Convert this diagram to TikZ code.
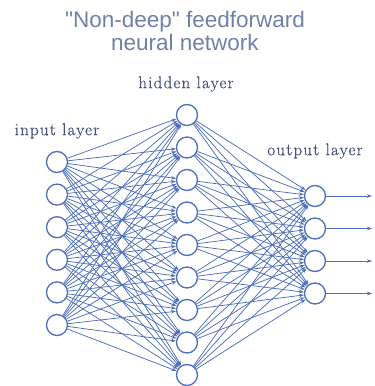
\documentclass[tikz,border=0pt]{standalone}
\usepackage{fontspec}
\newfontfamily\titlefont{Liberation Sans}
\newfontfamily\labelfont[LetterSpace=7,FakeBold=0.6]{Latin Modern Roman}
\usetikzlibrary{arrows.meta}
\definecolor{netblue}{RGB}{78,110,185}
\definecolor{titlecol}{RGB}{112,128,168}
\definecolor{labelcol}{RGB}{70,80,120}
\tikzset{
  neuron/.style={circle, draw=netblue, fill=white, line width=1.3pt, minimum size=21pt, inner sep=0pt},
  conn/.style={draw=netblue, line width=0.75pt, -{Stealth[length=5pt,width=3.5pt]}},
  outarrow/.style={draw=netblue, line width=0.9pt, -{Stealth[length=5pt,width=3.5pt]}},
  layerlabel/.style={text=labelcol, font=\labelfont\fontsize{17}{20}\selectfont, inner sep=0pt},
  titletext/.style={text=titlecol, font=\titlefont\fontsize{22.5}{23.5}\selectfont, align=center, inner sep=0pt}
}
\begin{document}
\begin{tikzpicture}[x=1pt, y=-1pt]
\useasboundingbox (0,0) rectangle (375,386);
\node[titletext] (title) at (185,31) {"Non-deep" feedforward\\neural network};
\node[layerlabel] (lin) at (57,131) {input layer};
\node[layerlabel] (lhid) at (186,84) {hidden layer};
\node[layerlabel] (lout) at (315,151) {output layer};
\foreach \i in {0,...,5} {
  \node[neuron] (I\i) at (57,{162+32.6*\i}) {};
}
\foreach \j in {0,...,8} {
  \node[neuron] (H\j) at (187,{115+32.5*\j}) {};
}
\foreach \k in {0,...,3} {
  \node[neuron] (O\k) at (315,{196+32.5*\k}) {};
  \coordinate (E\k) at (372,{196+32.5*\k});
}
\foreach \i in {0,...,5} {
  \foreach \j in {0,...,8} {
    \draw[conn] (I\i) -- (H\j);
  }
}
\foreach \j in {0,...,8} {
  \foreach \k in {0,...,3} {
    \draw[conn] (H\j) -- (O\k);
  }
}
\foreach \k in {0,...,3} {
  \draw[outarrow] (O\k) -- (E\k);
}
\end{tikzpicture}
\end{document}
